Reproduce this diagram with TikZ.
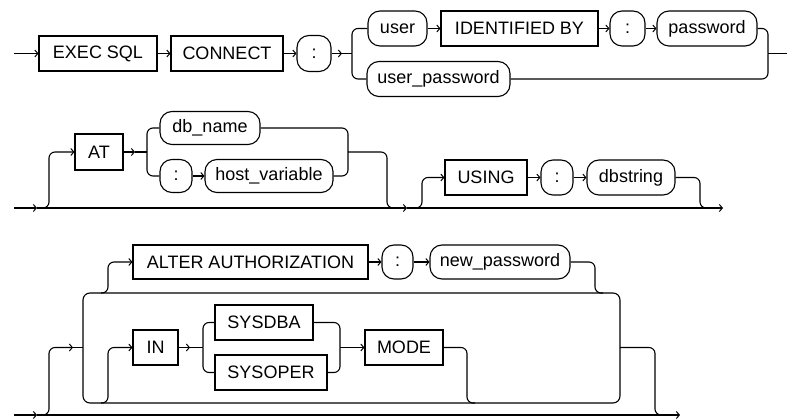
\documentclass[tikz,border=0pt]{standalone}
\usepackage{fontspec}
\setmainfont{Liberation Sans}
\usetikzlibrary{arrows.meta}
\begin{document}
\begin{tikzpicture}[x=1pt,y=-1pt,
  every node/.style={font=\fontsize{18}{18}\selectfont, inner sep=0pt, line width=1.1pt},
  kw/.style={draw, rectangle, minimum height=35pt},
  ov/.style={draw, rounded corners=12pt, minimum height=35pt},
  conn/.style={draw, line width=1.1pt, rounded corners=6pt},
  arr/.style={conn, -{Straight Barb[length=3pt,width=7pt,line width=1pt]}}
]
\useasboundingbox (0,0) rectangle (787,419);
% ---------- row 1 ----------
\node[kw, minimum width=118pt] (exec) at (98,53.5) {EXEC SQL};
\node[kw, minimum width=112pt] (connect) at (227,53.5) {CONNECT};
\node[ov, minimum width=34pt, minimum height=36pt] (col1) at (314,53.5) {:};
\node[ov, minimum width=59pt] (user) at (397.5,28.5) {user};
\node[kw, minimum width=157pt] (ident) at (519.5,28.5) {IDENTIFIED BY};
\node[ov, minimum width=35pt] (col2) at (627.5,28.5) {:};
\node[ov, minimum width=100pt] (password) at (707,28.5) {password};
\node[ov, minimum width=143pt] (userpw) at (438.5,79) {user\_password};
\coordinate (s1) at (14,53.5);
\coordinate (a1) at (342,53.5);
\coordinate (j1) at (352,53.5);
\coordinate (k1) at (768,53.5);
\coordinate (e1) at (790,53.5);
\draw[arr] (s1) -- (exec.west);
\draw[arr] (exec.east) -- (connect.west);
\draw[arr] (connect.east) -- (col1.west);
\draw[arr] (col1.east) -- (a1);
\draw[conn] (a1) -- (j1);
\draw[conn] (j1) |- (user.west);
\draw[conn] (j1) |- (userpw.west);
\draw[arr] (user.east) -- (ident.west);
\draw[arr] (ident.east) -- (col2.west);
\draw[arr] (col2.east) -- (password.west);
\draw[conn] (password.east) -| (k1);
\draw[conn] (userpw.east) -| (k1);
\draw[conn] (k1) -- (e1);
% ---------- row 2 ----------
\node[kw, minimum width=48pt, minimum height=36pt] (at) at (99,152) {AT};
\node[ov, minimum width=100pt, minimum height=33pt] (dbname) at (210,128) {db\_name};
\node[ov, minimum width=32pt, minimum height=33pt] (col3) at (176,176) {:};
\node[ov, minimum width=128pt, minimum height=33pt] (hostvar) at (269,176) {host\_variable};
\node[kw, minimum width=82pt] (using) at (486,177.5) {USING};
\node[ov, minimum width=32pt] (col4) at (557,177.5) {:};
\node[ov, minimum width=88pt] (dbstring) at (631,177.5) {dbstring};
\coordinate (s2) at (14,208);
\coordinate (m1) at (37,208);
\coordinate (m2) at (407,208);
\coordinate (e2) at (723,208);
\coordinate (c1) at (40,208);
\coordinate (atv) at (49,180);
\coordinate (a2) at (135,152);
\coordinate (j2) at (147,152);
\coordinate (k2) at (348,152);
\coordinate (kv2) at (387,180);
\coordinate (m2b) at (400,208);
\coordinate (c2) at (412,208);
\coordinate (uv) at (422,190);
\coordinate (dv) at (700,190);
\coordinate (m3) at (710,208);
\draw[arr] (s2) -- (m1);
\draw[arr] (m1) -- (m2);
\draw[arr] (m2) -- (e2);
\draw[arr] (c1) -| (atv) |- (at.west);
\draw[arr] (at.east) -- (a2);
\draw[conn] (a2) -- (j2);
\draw[conn] (j2) |- (dbname.west);
\draw[conn] (j2) |- (col3.west);
\draw[arr] (col3.east) -- (hostvar.west);
\draw[conn] (dbname.east) -| (k2);
\draw[conn] (hostvar.east) -| (k2);
\draw[conn] (k2) -| (kv2) |- (m2b);
\draw[arr] (c2) -| (uv) |- (using.west);
\draw[arr] (using.east) -- (col4.west);
\draw[arr] (col4.east) -- (dbstring.west);
\draw[conn] (dbstring.east) -| (dv) |- (m3);
% ---------- row 3 ----------
\node[kw, minimum width=235pt, minimum height=34pt] (alter) at (250.5,262) {ALTER AUTHORIZATION};
\node[ov, minimum width=31pt, minimum height=34pt] (col5) at (397.5,262) {:};
\node[ov, minimum width=140pt, minimum height=34pt] (newpw) at (500,262) {new\_password};
\node[kw, minimum width=45pt] (in) at (155.5,347.5) {IN};
\node[kw, minimum width=98pt] (sysdba) at (264,322.5) {SYSDBA};
\node[kw, minimum width=112pt] (sysoper) at (271,372.5) {SYSOPER};
\node[kw, minimum width=78pt] (mode) at (404,347.5) {MODE};
\coordinate (s3) at (14,415);
\coordinate (m4) at (37,415);
\coordinate (e3) at (680,415);
\coordinate (c3) at (42,415);
\coordinate (lv) at (49,380);
\coordinate (a3) at (73,347.5);
\coordinate (L) at (83,347.5);
\coordinate (ltop) at (83,293);
\coordinate (rbot) at (620,403);
\coordinate (R) at (620,347.5);
\coordinate (ov) at (655,380);
\coordinate (m5) at (663,415);
\coordinate (c4) at (101,293);
\coordinate (alv) at (108,280);
\coordinate (nv) at (595,280);
\coordinate (m6) at (603,293);
\coordinate (c5) at (101,403);
\coordinate (inv) at (108,380);
\coordinate (a4) at (190,347.5);
\coordinate (j3) at (203,347.5);
\coordinate (k3) at (340,347.5);
\coordinate (mv) at (467,380);
\coordinate (m7) at (475,403);
\draw[arr] (s3) -- (m4);
\draw[arr] (m4) -- (e3);
\draw[arr] (c3) -| (lv) |- (a3);
\draw[conn] (a3) -- (L);
\draw[conn, rounded corners=7pt] (ltop) rectangle (rbot);
\draw[conn] (R) -| (ov) |- (m5);
\draw[arr] (c4) -| (alv) |- (alter.west);
\draw[arr] (alter.east) -- (col5.west);
\draw[arr] (col5.east) -- (newpw.west);
\draw[conn] (newpw.east) -| (nv) |- (m6);
\draw[arr] (c5) -| (inv) |- (in.west);
\draw[arr] (in.east) -- (a4);
\draw[conn] (a4) -- (j3);
\draw[conn] (j3) |- (sysdba.west);
\draw[conn] (j3) |- (sysoper.west);
\draw[conn] (sysdba.east) -| (k3);
\draw[conn] (sysoper.east) -| (k3);
\draw[arr] (k3) -- (mode.west);
\draw[conn] (mode.east) -| (mv) |- (m7);
\end{tikzpicture}
\end{document}
